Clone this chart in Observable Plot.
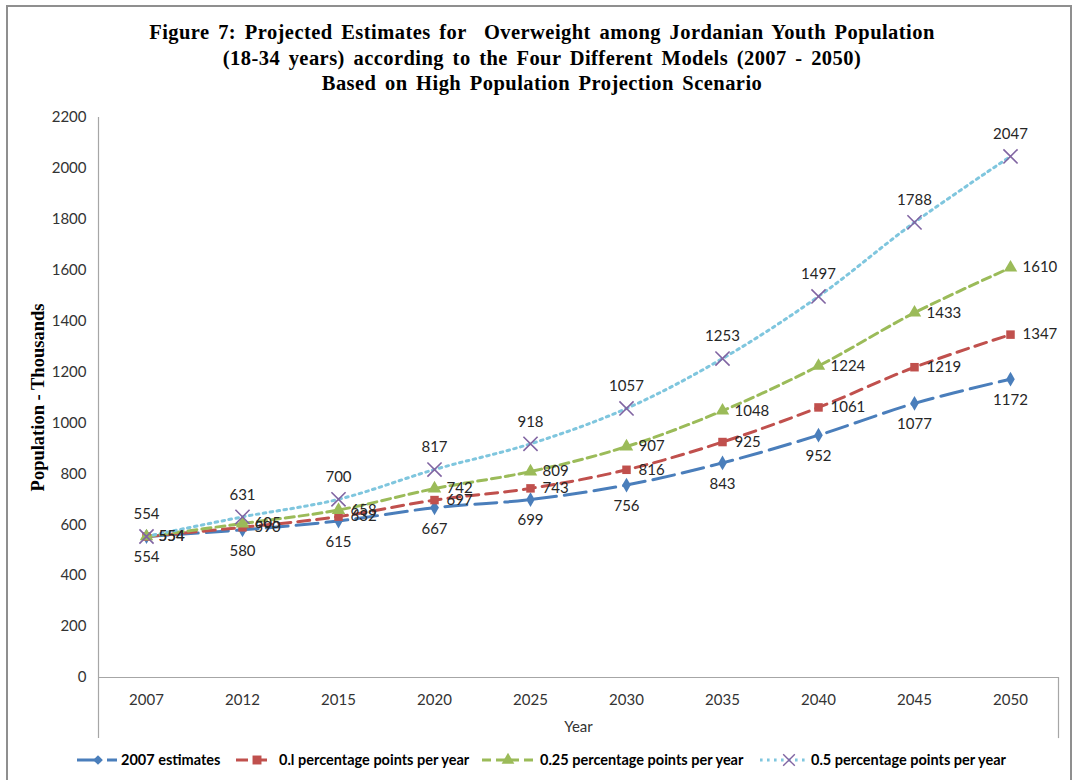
<!DOCTYPE html>
<html>
<head>
<meta charset="utf-8">
<script src="https://cdn.jsdelivr.net/npm/d3@7"></script>
<script src="https://cdn.jsdelivr.net/npm/@observablehq/plot@0.6"></script>
<style>
  body { margin: 0; background: #fff; }
  #page { position: relative; width: 1075px; height: 780px; overflow: hidden; background: #fff; }
  #border { position: absolute; left: 6px; top: 5px; width: 1066px; height: 820px; border: 2px solid #8f8f8f; box-sizing: border-box; }
  #title { position: absolute; left: 0; top: 20px; width: 1084px; text-align: center;
           font: bold 20.5px "Liberation Serif", serif; line-height: 25.5px; color: #000;
           letter-spacing: 0.45px; word-spacing: 3px; }
  #chart { position: absolute; left: 0; top: 100px; }
  #legend { position: absolute; left: 0; top: 750px; width: 1075px; height: 20px; }
  #legend svg { position: absolute; left: 0; top: 0; }
</style>
</head>
<body>
<div id="page">
  <div id="border"></div>
  <div id="title">Figure 7: Projected Estimates for&nbsp; Overweight among Jordanian Youth Population<br>(18-34 years) according to the Four Different Models (2007 - 2050)<br>Based on High Population Projection Scenario</div>
  <div id="chart"></div>
  <div id="legend"></div>
</div>
<script>
// Projection years (category axis)
const years = ["2007", "2012", "2015", "2020", "2025", "2030", "2035", "2040", "2045", "2050"];

// Overweight youth population, thousands, for each model
const est2007 = [554, 580, 615, 667, 699, 756, 843, 952, 1077, 1172];
const pp010   = [554, 590, 632, 697, 743, 816, 925, 1061, 1219, 1347];
const pp025   = [554, 605, 658, 742, 809, 907, 1048, 1224, 1433, 1610];
const pp050   = [554, 631, 700, 817, 918, 1057, 1253, 1497, 1788, 2047];

// Series names as shown in the legend
const seriesNames = [
  "2007 estimates",
  "0.l percentage points per year",
  "0.25 percentage points per year",
  "0.5 percentage points per year"
];

// Value axis tick labels
const yTicks = [0, 200, 400, 600, 800, 1000, 1200, 1400, 1600, 1800, 2000, 2200];

const labelFont = "Lato, 'Open Sans', sans-serif";

// Visual style of each series: line colour, dash, marker and label placement
const series = [
  { name: seriesNames[0], values: est2007, line: "#4a7ebb", dash: "22,8", marker: "#4a7ebb",
    symbol: "diamond", r: 4.5, stroke: null, label: { dx: 0, dy: 21, anchor: "middle" } },
  { name: seriesNames[1], values: pp010, line: "#c0504d", dash: "12,7", marker: "#c0504d",
    symbol: "square", r: 4.8, stroke: null, label: { dx: 12, dy: 0, anchor: "start" } },
  { name: seriesNames[2], values: pp025, line: "#9bbb59", dash: "9,5", marker: "#9bbb59",
    symbol: "triangle", r: 5, stroke: null, label: { dx: 12, dy: 0, anchor: "start" } },
  { name: seriesNames[3], values: pp050, line: "#7fc6de", dash: "2.6,4.4", marker: "#8064a2",
    symbol: "times", r: 6.5, stroke: "#8064a2", label: { dx: 0, dy: -22, anchor: "middle" } }
];

const idx = years.map((_, i) => i);
const axisFloor = -240; // depth of the category box below the zero line, in value units
const gridGray = "#a6a6a6";

const marks = [
  Plot.ruleY([0], { stroke: gridGray, strokeWidth: 1.2 }),
  Plot.ruleX([-0.5], { y1: 2200, y2: axisFloor, stroke: gridGray, strokeWidth: 1.2 }),
  Plot.ruleX([idx.length - 0.5], { y1: 0, y2: axisFloor, stroke: gridGray, strokeWidth: 1.2 }),
  Plot.axisY({ ticks: yTicks, tickSize: 0, tickPadding: 12, tickFormat: (d) => String(d), label: null, fontSize: 15, fill: "#333" }),
  Plot.axisX({ ticks: idx, tickSize: 0, tickPadding: 17, tickFormat: (i) => years[i], label: null, fontSize: 15, fill: "#333" }),
  Plot.text(["Year"], { frameAnchor: "bottom", lineAnchor: "middle", dy: 50, fontSize: 15, fontFamily: labelFont, fill: "#333" }),
  Plot.text(["Population - Thousands"], { frameAnchor: "left", textAnchor: "middle", rotate: -90, dx: -60,
    fontSize: 18.5, fontWeight: "bold", fontFamily: "'Liberation Serif', serif", fill: "#000",
    letterSpacing: "0.5px" })
];

for (const s of series) {
  const rows = s.values.map((v, i) => ({ i, v }));
  marks.push(
    Plot.line(rows, { x: "i", y: "v", stroke: s.line, strokeWidth: 3, strokeDasharray: s.dash,
      curve: "catmull-rom" })
  );
}
for (const s of series) {
  const rows = s.values.map((v, i) => ({ i, v }));
  marks.push(
    s.stroke
      ? Plot.dot(rows, { x: "i", y: "v", symbol: s.symbol, r: s.r, stroke: s.stroke, strokeWidth: 1.6, fill: "none" })
      : Plot.dot(rows, { x: "i", y: "v", symbol: s.symbol, r: s.r, fill: s.marker, stroke: "none" }),
    Plot.text(rows, { x: "i", y: "v", text: (d) => String(d.v), dx: s.label.dx, dy: s.label.dy,
      textAnchor: s.label.anchor, fontSize: 15, fontFamily: labelFont, fill: "#262626" })
  );
}

const chart = Plot.plot({
  width: 1075,
  height: 645,
  marginLeft: 98,
  marginRight: 17,
  marginTop: 17,
  marginBottom: 68,
  style: { fontFamily: labelFont, fontSize: "13px", color: "#333", background: "transparent", overflow: "visible" },
  x: { type: "linear", domain: [-0.5, idx.length - 0.5] },
  y: { domain: [0, 2200] },
  marks
});
document.getElementById("chart").appendChild(chart);

// Legend: line sample with marker, followed by the series name
const legendGeom = [
  { x0: 77, x1: 117, mx: 98, tx: 121 },
  { x0: 236, x1: 272, mx: 257, tx: 279 },
  { x0: 482, x1: 537, mx: 508, tx: 540 },
  { x0: 760, x1: 808, mx: 789, tx: 811 }
];
const ns = "http://www.w3.org/2000/svg";
const lg = document.createElementNS(ns, "svg");
lg.setAttribute("width", 1075);
lg.setAttribute("height", 20);
const symbolPaths = {
  diamond: d3.symbol(d3.symbolDiamond2, 60)(),
  square: d3.symbol(d3.symbolSquare, 80)(),
  triangle: d3.symbol(d3.symbolTriangle, 70)(),
  times: d3.symbol(d3.symbolTimes, 90)()
};
series.forEach((s, k) => {
  const g = legendGeom[k];
  const cy = 10;
  const ln = document.createElementNS(ns, "line");
  ln.setAttribute("x1", g.x0); ln.setAttribute("x2", g.x1);
  ln.setAttribute("y1", cy); ln.setAttribute("y2", cy);
  ln.setAttribute("stroke", s.line); ln.setAttribute("stroke-width", 3);
  ln.setAttribute("stroke-dasharray", s.dash);
  lg.appendChild(ln);
  const p = document.createElementNS(ns, "path");
  p.setAttribute("d", symbolPaths[s.symbol]);
  p.setAttribute("transform", `translate(${g.mx},${cy})`);
  if (s.stroke) { p.setAttribute("fill", "none"); p.setAttribute("stroke", s.stroke); p.setAttribute("stroke-width", 1.4); }
  else p.setAttribute("fill", s.marker);
  lg.appendChild(p);
  const t = document.createElementNS(ns, "text");
  t.setAttribute("x", g.tx); t.setAttribute("y", cy);
  t.setAttribute("dy", "0.35em");
  t.setAttribute("font-family", labelFont);
  t.setAttribute("font-size", 14.5);
  t.setAttribute("font-weight", "bold");
  t.setAttribute("fill", "#000");
  t.textContent = s.name;
  lg.appendChild(t);
});
document.getElementById("legend").appendChild(lg);
</script>
</body>
</html>
